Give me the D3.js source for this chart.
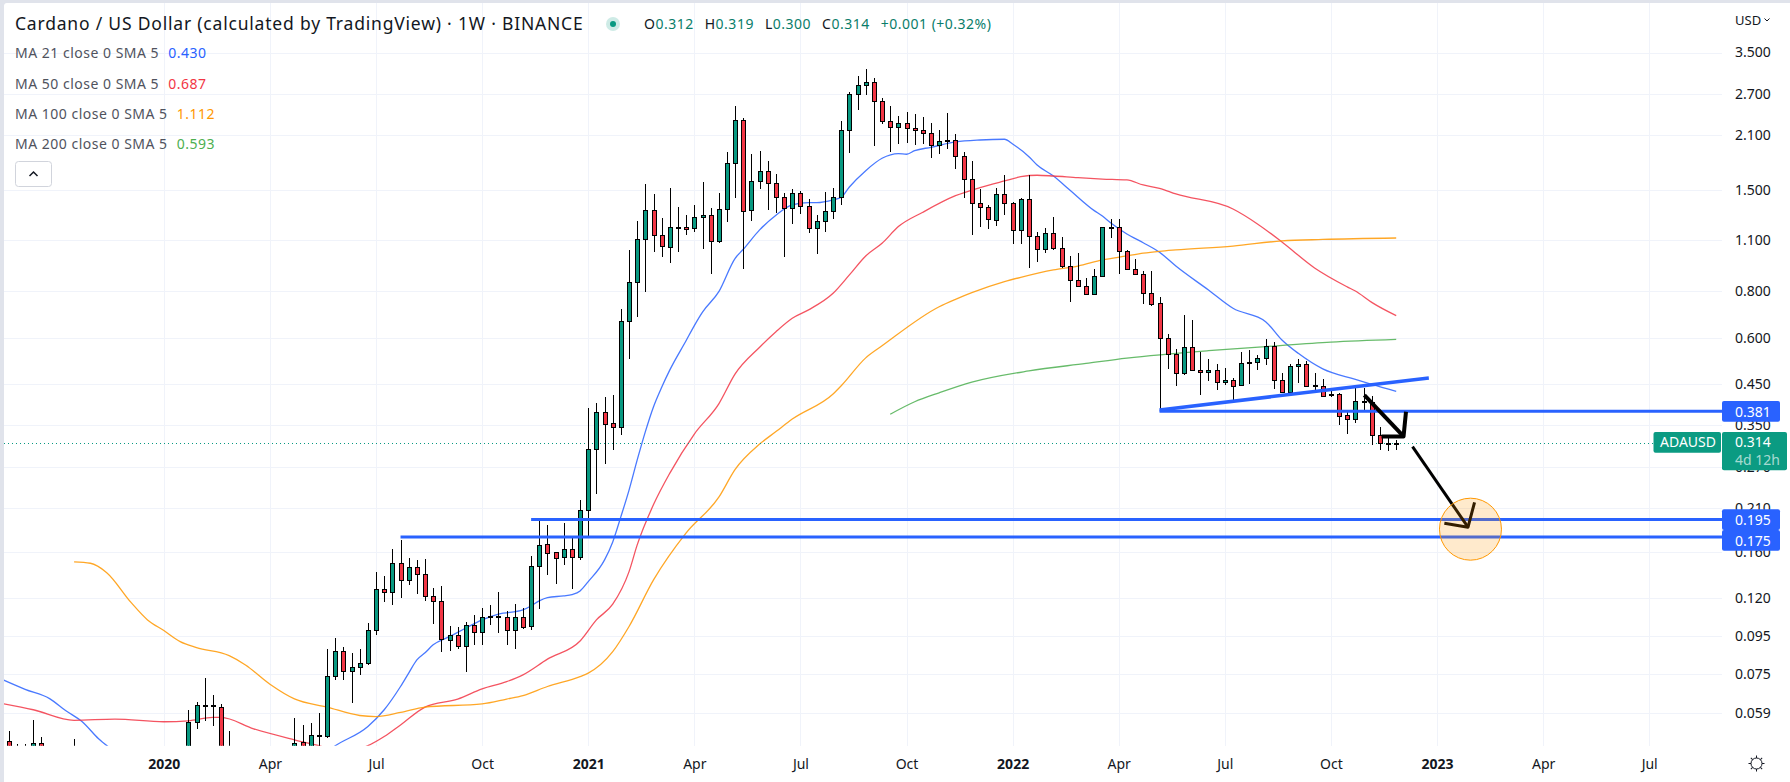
<!DOCTYPE html>
<html>
<head>
<meta charset="utf-8">
<title>Cardano / US Dollar</title>
<script src="https://cdn.jsdelivr.net/npm/d3@7/dist/d3.min.js"></script>
<style>
  html, body { margin: 0; padding: 0; background: #fff; overflow: hidden; }
  svg { display: block; font-family: "Noto Sans", sans-serif; }
</style>
</head>
<body>
<div id="chart"></div>
<script>
// weekly candles, values; the ones under the plot edge are estimates
const opens = [
  0.0496,0.0470,0.0464,0.0464,0.0491,0.0455,0.0439,0.0453,0.0447,0.0390,0.0362,0.0367,0.0341,0.0362,0.0345,0.0345,0.0320,0.0341,0.0320,0.0334,0.0367,0.0403,0.0442,0.0557,0.0616,
  0.0620,0.0614,0.0464,0.0390,0.0345,0.0287,0.0320,0.0345,0.0395,0.0390,0.0455,0.0494,0.0470,0.0513,0.0513,0.0741,0.0868,0.0763,0.0783,0.0803,0.0984,0.1268,0.1245,0.1489,0.1341,
  0.1453,0.1391,0.1215,0.1178,0.0925,0.0954,0.0892,0.1015,0.0972,0.1067,0.1074,0.1067,0.0984,0.1067,0.1009,0.1462,0.1675,0.1594,0.1546,0.1624,0.1546,0.207,0.301,0.380,0.354,
  0.345,0.665,0.846,1.103,1.320,1.131,1.050,1.185,1.187,1.181,1.264,1.280,1.090,1.328,1.765,2.302,1.320,1.579,1.680,1.559,1.430,1.336,1.466,1.353,1.181,
  1.233,1.312,1.430,2.164,2.703,2.858,2.911,2.589,2.288,2.204,2.260,2.191,2.164,2.124,1.972,2.035,2.034,1.843,1.599,1.378,1.345,1.241,1.457,1.378,1.171,
  1.413,1.124,1.037,1.145,1.044,0.934,0.856,0.825,0.785,0.878,1.182,1.188,1.024,0.917,0.889,0.790,0.743,0.598,0.542,0.482,0.566,0.491,0.485,0.491,0.456,
  0.462,0.447,0.513,0.516,0.529,0.569,0.462,0.429,0.503,0.510,0.449,0.446,0.421,0.423,0.372,0.363,0.403,0.403,0.329,0.312,0.312
];
const highs = [
  0.0528,0.0488,0.0488,0.0565,0.0509,0.0470,0.0464,0.0470,0.0503,0.0415,0.0403,0.0390,0.0378,0.0390,0.0378,0.0367,0.0362,0.0367,0.0356,0.0390,0.0415,0.0442,0.0602,0.0631,0.0733,
  0.0660,0.0624,0.0528,0.0415,0.0367,0.0345,0.0367,0.0403,0.0415,0.0442,0.0571,0.0548,0.0554,0.0589,0.0877,0.0939,0.0888,0.0856,0.0875,0.1030,0.1411,0.1377,0.1627,0.1720,0.1539,
  0.1520,0.1529,0.1276,0.1294,0.1009,0.1003,0.1034,0.1080,0.1128,0.1151,0.1245,0.1107,0.1156,0.1128,0.1555,0.1943,0.1884,0.1600,0.1907,0.1749,0.220,0.388,0.400,0.416,0.421,
  0.717,1.033,1.235,1.553,1.460,1.256,1.512,1.345,1.280,1.364,1.569,1.336,1.469,1.896,2.510,2.331,1.866,1.904,1.787,1.652,1.466,1.503,1.484,1.413,1.280,
  1.475,1.512,2.288,2.737,3.021,3.155,2.984,2.637,2.510,2.364,2.419,2.389,2.345,2.260,2.164,2.404,2.111,1.889,1.790,1.503,1.361,1.512,1.639,1.387,1.421,
  1.639,1.152,1.181,1.264,1.117,0.993,1.012,0.867,0.917,1.188,1.248,1.248,1.031,0.975,0.905,0.905,0.771,0.614,0.559,0.690,0.669,0.549,0.525,0.510,0.497,
  0.467,0.549,0.556,0.539,0.595,0.584,0.482,0.510,0.525,0.519,0.482,0.464,0.439,0.426,0.381,0.439,0.439,0.418,0.345,0.324,0.319
];
const lows = [
  0.0442,0.0442,0.0447,0.0442,0.0428,0.0428,0.0420,0.0415,0.0428,0.0345,0.0334,0.0314,0.0314,0.0320,0.0324,0.0305,0.0305,0.0301,0.0296,0.0314,0.0345,0.0367,0.0415,0.0536,0.0562,
  0.0546,0.0415,0.0367,0.0314,0.0238,0.0224,0.0287,0.0314,0.0345,0.0367,0.0428,0.0428,0.0442,0.0482,0.0504,0.0724,0.0724,0.0628,0.0744,0.0796,0.0958,0.1175,0.1153,0.1204,0.1305,
  0.1234,0.1182,0.1025,0.0859,0.0865,0.0875,0.0759,0.0897,0.0897,0.1019,0.0966,0.0897,0.0875,0.0990,0.0984,0.1121,0.1383,0.1308,0.1471,0.1268,0.1517,0.1738,0.228,0.275,0.299,
  0.329,0.526,0.684,0.798,1.022,0.991,0.955,1.022,1.135,1.156,1.041,0.892,1.080,1.230,1.427,0.920,1.238,1.508,1.322,1.296,0.991,1.213,1.290,1.149,1.009,
  1.156,1.253,1.366,1.884,2.458,2.691,1.964,2.250,1.892,1.988,2.001,1.976,1.988,1.827,1.869,1.928,1.707,1.424,1.135,1.193,1.178,1.200,1.284,1.074,1.074,
  0.926,0.961,1.016,1.035,0.922,0.750,0.820,0.783,0.783,0.872,1.110,0.890,0.915,0.883,0.741,0.729,0.384,0.494,0.446,0.477,0.490,0.422,0.458,0.435,0.447,
  0.405,0.447,0.452,0.491,0.506,0.438,0.428,0.426,0.453,0.444,0.431,0.417,0.416,0.351,0.332,0.355,0.383,0.310,0.299,0.298,0.300
];
const closes = [
  0.0464,0.0464,0.0470,0.0490,0.0455,0.0442,0.0450,0.0436,0.0464,0.0367,0.0378,0.0345,0.0356,0.0345,0.0356,0.0324,0.0345,0.0324,0.0334,0.0367,0.0403,0.0428,0.0557,0.0619,0.0620,
  0.0616,0.0464,0.0403,0.0345,0.0287,0.0324,0.0345,0.0385,0.0367,0.0420,0.0491,0.0464,0.0514,0.0515,0.0742,0.0865,0.0764,0.0783,0.0803,0.0984,0.1268,0.1245,0.1489,0.1341,0.1453,
  0.1391,0.1215,0.1178,0.0931,0.0954,0.0892,0.1015,0.0972,0.1067,0.1074,0.1067,0.0984,0.1067,0.1003,0.1462,0.1665,0.1584,0.1536,0.1624,0.1546,0.207,0.301,0.380,0.353,0.345,
  0.665,0.846,1.103,1.320,1.131,1.057,1.188,1.192,1.179,1.264,1.280,1.090,1.328,1.765,2.302,1.312,1.579,1.680,1.559,1.430,1.336,1.466,1.353,1.181,1.233,
  1.312,1.430,2.164,2.703,2.858,2.911,2.589,2.288,2.204,2.260,2.191,2.164,2.124,1.972,2.022,2.023,1.843,1.599,1.378,1.345,1.248,1.457,1.378,1.171,1.413,
  1.124,1.037,1.145,1.044,0.934,0.856,0.825,0.785,0.878,1.188,1.189,1.024,0.917,0.889,0.790,0.738,0.598,0.542,0.482,0.566,0.491,0.485,0.491,0.456,0.462,
  0.446,0.513,0.516,0.529,0.569,0.462,0.429,0.503,0.510,0.446,0.446,0.418,0.424,0.369,0.363,0.405,0.406,0.329,0.313,0.314,0.314
];

// moving averages, sampled at the weeks listed
const ma21Weeks = [-1,2,5,7,9,11,13,20,30,36,40,44,46,48,49,50,51,52,54,56,58,60,63,64,65,66,68,69,70,71,73,74,75,76,77,78,79,80,81,83,84,85,87,89,90,92,94,96,98,99,101,102,103,105,107,109,110,111,113,116,119,122,123,125,126,128,130,133,134,135,137,139,141,143,147,150,154,156,158,161,165,167,170];
const ma21Values = [0.0729,0.0683,0.0645,0.0598,0.0559,0.0503,0.0464,0.0345,0.0324,0.0415,0.0482,0.0543,0.0602,0.0695,0.0755,0.0819,0.0856,0.0899,0.0946,0.0998,0.1049,0.1087,0.1116,0.1144,0.1180,
  0.1204,0.1217,0.1227,0.1255,0.1329,0.1520,0.1699,0.1986,0.234,0.282,0.336,0.392,0.442,0.492,0.590,0.647,0.703,0.798,0.981,1.037,1.169,1.280,1.364,1.383,1.383,
  1.407,1.430,1.524,1.686,1.820,1.873,1.866,1.908,1.948,2.013,2.038,2.047,1.988,1.838,1.746,1.631,1.496,1.317,1.274,1.222,1.140,1.080,1.018,0.935,0.806,
  0.720,0.663,0.592,0.545,0.495,0.464,0.450,0.431];
const ma50Weeks = [-1,3,8,13,19,22,25,26,30,35,38,41,44,46,48,51,55,58,61,63,66,70,72,74,76,77,79,81,84,87,89,92,94,96,98,101,103,105,107,109,112,116,119,122,124,126,128,131,134,137,139,141,143,150,153,156,160,164,165,167,170];
const ma50Values = [0.0627,0.0602,0.0564,0.0568,0.0559,0.0562,0.0574,0.0574,0.0535,0.0500,0.0482,0.0464,0.0482,0.0510,0.0548,0.0612,0.0643,0.0685,0.0716,0.0747,0.0823,0.0921,0.1049,0.1156,0.1414,
  0.1668,0.214,0.260,0.331,0.399,0.480,0.566,0.623,0.677,0.713,0.790,0.885,0.995,1.076,1.193,1.304,1.444,1.518,1.582,1.624,1.639,1.631,1.614,1.601,1.592,
  1.543,1.512,1.460,1.330,1.213,1.085,0.924,0.822,0.801,0.747,0.688];
const ma100Weeks = [8,10,12,15,17,19,21,23,27,29,32,35,39,43,45,48,51,58,61,63,66,70,71,74,76,79,83,87,89,92,94,96,101,102,105,107,114,116,118,122,124,128,131,134,137,139,141,143,150,156,161,170];
const ma100Values = [0.1501,0.1489,0.1405,0.1167,0.1049,0.0982,0.0917,0.0884,0.0841,0.0794,0.0705,0.0644,0.0612,0.0581,0.0577,0.0592,0.0612,0.0624,0.0643,0.0657,0.0695,0.0739,0.0755,0.0862,0.1007,
  0.1343,0.1796,0.224,0.266,0.311,0.336,0.363,0.424,0.446,0.530,0.571,0.727,0.761,0.793,0.849,0.872,0.913,0.935,0.971,0.995,1.012,1.024,1.033,1.058,1.092,
  1.102,1.112];
const ma200Weeks = [108,111,114,118,125,132,137,147,154,162,170];
const ma200Values = [0.374,0.404,0.427,0.456,0.489,0.512,0.529,0.554,0.568,0.584,0.594];

const maLabels = ['MA 21 close 0 SMA 5','MA 50 close 0 SMA 5','MA 100 close 0 SMA 5','MA 200 close 0 SMA 5'];
const maLast = ['0.430','0.687','1.112','0.593'];
const maColors = ['#2962ff','#f23645','#ff9800','#4caf50'];

const priceTicks = [3.5,2.7,2.1,1.5,1.1,0.8,0.6,0.45,0.35,0.27,0.21,0.16,0.12,0.095,0.075,0.059];
const weekTicks = [19,32,45,58,71,84,97,110,123,136,149,162,175,188,201];
const weekLabels = ['2020','Apr','Jul','Oct','2021','Apr','Jul','Oct','2022','Apr','Jul','Oct','2023','Apr','Jul'];

// drawings on the chart
const levelPrices = [0.381,0.195,0.175];
const levelStartWeeks = [141,64,48];
const trendWeeks = [141,174];
const trendPrices = [0.384,0.468];
const arrowOneWeeks = [166.1,170.9];
const arrowOnePrices = [0.421,0.326];
const arrowOneHeadWeeks = [168.2,170.9,171.2];
const arrowOneHeadPrices = [0.326,0.326,0.380];
const arrowTwoWeeks = [172,178.8];
const arrowTwoPrices = [0.306,0.1861];
const arrowTwoHeadWeeks = [175.9,178.8,179.6];
const arrowTwoHeadPrices = [0.1907,0.1861,0.217];
const circleWeek = 179.1;
const circlePrice = 0.1838;
const lastPrice = 0.314;

const width = 1790;
const height = 782;
const plot = { left: 4, top: 3, right: 1722, bottom: 745.7 };
const upColor = '#089981';
const downColor = '#f23645';
const textColor = '#131722';
const gridColor = '#f0f3fa';
// the two lower tags are pushed apart on the axis, like the platform does
const levelTagShift = [0, 0, 3.3];

const x = d3.scaleLinear().domain([0, 170]).range([8.8, 1396.2]);
const y = d3.scaleLog().domain([3.5, 0.059]).range([52.5, 713]);

const svg = d3.select('#chart').append('svg')
  .attr('width', width)
  .attr('height', height);

// frame: grey strip on top and left, white pane with a rounded corner
svg.append('rect').attr('width', width).attr('height', height).attr('fill', '#e0e3eb');
svg.append('rect').attr('x', plot.left).attr('y', plot.top)
  .attr('width', width).attr('height', height).attr('rx', 3).attr('fill', '#fff');

svg.append('clipPath').attr('id', 'pane').append('rect')
  .attr('x', plot.left).attr('y', plot.top)
  .attr('width', plot.right - plot.left).attr('height', plot.bottom - plot.top);

// grid
const grid = svg.append('g').attr('stroke', gridColor).attr('shape-rendering', 'crispEdges');
grid.selectAll('.h').data(priceTicks).join('line')
  .attr('x1', plot.left).attr('x2', plot.right)
  .attr('y1', d => Math.round(y(d))).attr('y2', d => Math.round(y(d)));
grid.selectAll('.v').data(weekTicks).join('line')
  .attr('x1', d => Math.round(x(d))).attr('x2', d => Math.round(x(d)))
  .attr('y1', plot.top).attr('y2', plot.bottom);

const pane = svg.append('g').attr('clip-path', 'url(#pane)');

// moving averages
const maLine = d3.line().x(d => x(d[0])).y(d => y(d[1])).curve(d3.curveMonotoneX);
const maSeries = [
  d3.zip(ma21Weeks, ma21Values),
  d3.zip(ma50Weeks, ma50Values),
  d3.zip(ma100Weeks, ma100Values),
  d3.zip(ma200Weeks, ma200Values)
];
pane.selectAll('.ma').data(maSeries).join('path')
  .attr('class', 'ma')
  .attr('fill', 'none')
  .attr('stroke', (d, i) => maColors[i])
  .attr('stroke-width', 1.3)
  .attr('stroke-opacity', 0.85)
  .attr('d', maLine);

// current price dotted line
pane.append('line')
  .attr('x1', plot.left).attr('x2', plot.right)
  .attr('y1', Math.round(y(lastPrice)) + 0.5).attr('y2', Math.round(y(lastPrice)) + 0.5)
  .attr('stroke', upColor).attr('stroke-dasharray', '1 3');

// candles
const candles = opens.map((o, i) => ({ week: i, o, h: highs[i], l: lows[i], c: closes[i] }));
const candle = pane.selectAll('.candle').data(candles).join('g').attr('class', 'candle');
candle.append('line')
  .attr('x1', d => Math.round(x(d.week)) + 0.5).attr('x2', d => Math.round(x(d.week)) + 0.5)
  .attr('y1', d => Math.round(y(d.h))).attr('y2', d => Math.round(y(d.l)))
  .attr('stroke', '#000').attr('shape-rendering', 'crispEdges');
candle.append('rect')
  .attr('x', d => Math.round(x(d.week)) - 1.5)
  .attr('width', 4)
  .attr('y', d => Math.round(y(Math.max(d.o, d.c))) + 0.5)
  .attr('height', d => Math.round(y(Math.min(d.o, d.c))) - Math.round(y(Math.max(d.o, d.c))))
  .attr('fill', d => d.c >= d.o ? upColor : downColor)
  .attr('stroke', '#000').attr('shape-rendering', 'crispEdges');

// horizontal levels and the rising trend line
pane.selectAll('.level').data(levelPrices).join('line')
  .attr('class', 'level')
  .attr('x1', (d, i) => x(levelStartWeeks[i])).attr('x2', plot.right)
  .attr('y1', d => y(d)).attr('y2', d => y(d))
  .attr('stroke', '#2962ff').attr('stroke-width', 3);
pane.append('line')
  .attr('x1', x(trendWeeks[0])).attr('x2', x(trendWeeks[1]))
  .attr('y1', y(trendPrices[0])).attr('y2', y(trendPrices[1]))
  .attr('stroke', '#2962ff').attr('stroke-width', 3.5);

// arrows
const plainLine = d3.line().x(d => x(d[0])).y(d => y(d[1]));
function arrow(shaftW, shaftP, headW, headP, w) {
  pane.append('path').attr('d', plainLine(d3.zip(shaftW, shaftP)))
    .attr('fill', 'none').attr('stroke', '#000').attr('stroke-width', w);
  pane.append('path').attr('d', plainLine(d3.zip(headW, headP)))
    .attr('fill', 'none').attr('stroke', '#000').attr('stroke-width', w).attr('stroke-linejoin', 'round');
}
arrow(arrowOneWeeks, arrowOnePrices, arrowOneHeadWeeks, arrowOneHeadPrices, 4);
arrow(arrowTwoWeeks, arrowTwoPrices, arrowTwoHeadWeeks, arrowTwoHeadPrices, 3);

// target circle
pane.append('circle')
  .attr('cx', x(circleWeek)).attr('cy', y(circlePrice)).attr('r', 31)
  .attr('fill', '#ff9800').attr('fill-opacity', 0.2)
  .attr('stroke', '#ff9800').attr('stroke-width', 1);

// price axis
const axisY = svg.append('g')
  .attr('transform', 'translate(1735,0)')
  .call(d3.axisRight(y).tickValues(priceTicks).tickFormat(d3.format('.3f')).tickSize(0).tickPadding(0));
axisY.select('.domain').remove();
axisY.selectAll('text').attr('font-size', 14).attr('font-family', '"Noto Sans", sans-serif').attr('fill', textColor);

// time axis
const axisX = svg.append('g')
  .attr('transform', `translate(0,${plot.bottom})`)
  .call(d3.axisBottom(x).tickValues(weekTicks).tickFormat((d, i) => weekLabels[i]).tickSize(0));
axisX.select('.domain').remove();
axisX.selectAll('text')
  .attr('y', 18).attr('dy', '0.35em')
  .attr('font-size', 14).attr('font-family', '"Noto Sans", sans-serif').attr('fill', textColor)
  .attr('font-weight', (d, i) => /^20/.test(weekLabels[i]) ? 700 : 400);

// price tags on the axis
function priceTag(x0, x1, y0, y1, color) {
  svg.append('rect').attr('x', x0).attr('y', y0)
    .attr('width', x1 - x0).attr('height', y1 - y0).attr('rx', 2).attr('fill', color);
}
function tagText(txt, tx, ty, color) {
  svg.append('text').attr('x', tx).attr('y', ty).attr('dy', '0.35em')
    .attr('font-size', 14).attr('fill', color).text(txt);
}
levelPrices.forEach((p, i) => {
  const cy = y(p) + levelTagShift[i];
  priceTag(plot.right, 1780, cy - 10.3, cy + 10.4, '#2962ff');
  tagText(d3.format('.3f')(p), 1735, cy + 0.4, '#fff');
});
const lastY = y(lastPrice);
priceTag(1653.5, 1721, lastY - 10.5, lastY + 10.3, '#0b9b82');
tagText('ADAUSD', 1660, lastY, '#fff');
priceTag(plot.right, 1787, lastY - 10.5, lastY + 27.8, '#0b9b82');
tagText(d3.format('.3f')(lastPrice), 1735, lastY, '#fff');
tagText('4d 12h', 1735, lastY + 18, 'rgba(255,255,255,0.65)');

// currency menu and settings icon
svg.append('text').attr('x', 1735).attr('y', 20).attr('dy', '0.35em')
  .attr('font-size', 13).attr('fill', textColor).text('USD');
svg.append('path').attr('d', 'M1764.5 18.5l2.5 2.5l2.5 -2.5')
  .attr('fill', 'none').attr('stroke', textColor);
const gear = svg.append('g').attr('transform', 'translate(1756.5,763.5)')
  .attr('fill', 'none').attr('stroke', textColor);
gear.append('circle').attr('r', 5.5);
gear.selectAll('line').data(d3.range(8)).join('line')
  .attr('transform', d => `rotate(${d * 45})`)
  .attr('y1', -5.5).attr('y2', -8);

// header
const head = svg.append('g');
head.append('text').attr('x', 15).attr('y', 24).attr('dy', '0.35em')
  .attr('font-size', 17.5).attr('letter-spacing', 0.8).attr('fill', textColor)
  .text('Cardano / US Dollar (calculated by TradingView) · 1W · BINANCE');
head.append('circle').attr('cx', 613).attr('cy', 24).attr('r', 7).attr('fill', upColor).attr('fill-opacity', 0.2);
head.append('circle').attr('cx', 613).attr('cy', 24).attr('r', 3).attr('fill', upColor);

const ohlcText = head.append('text').attr('x', 644).attr('y', 24).attr('dy', '0.35em')
  .attr('font-size', 14).attr('letter-spacing', 0.5).attr('fill', textColor);
const ohlcNames = ['O', 'H', 'L', 'C'];
const ohlcValues = [opens, highs, lows, closes].map(a => a[a.length - 1]);
ohlcNames.forEach((n, i) => {
  ohlcText.append('tspan').attr('dx', i ? 11 : 0).text(n);
  ohlcText.append('tspan').attr('fill', '#0a7d6a').text(d3.format('.3f')(ohlcValues[i]));
});
ohlcText.append('tspan').attr('dx', 11).attr('fill', '#0a7d6a').text('+0.001 (+0.32%)');

maLabels.forEach((label, i) => {
  const row = head.append('text').attr('x', 15).attr('y', 53.5 + i * 30.3).attr('dy', '0.35em')
    .attr('font-size', 14).attr('letter-spacing', 0.5).attr('fill', '#50535e');
  row.append('tspan').text(label);
  row.append('tspan').attr('dx', 9).attr('fill', maColors[i]).text(maLast[i]);
});

// collapse button
head.append('rect').attr('x', 15.5).attr('y', 161.5).attr('width', 36).attr('height', 25).attr('rx', 3)
  .attr('fill', '#fff').attr('stroke', '#d1d4dc');
head.append('path').attr('d', 'M29.5 176l4 -4l4 4').attr('fill', 'none').attr('stroke', textColor).attr('stroke-width', 1.5);
</script>
</body>
</html>
